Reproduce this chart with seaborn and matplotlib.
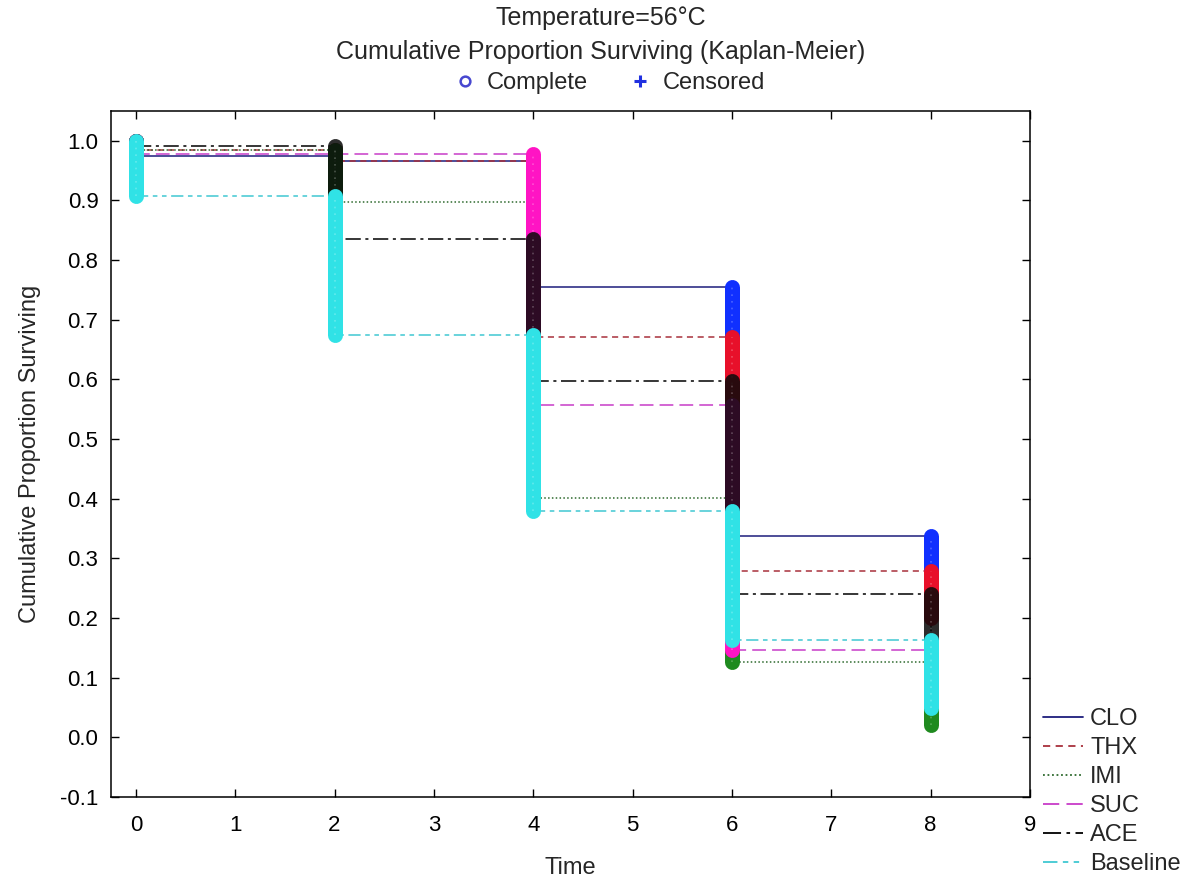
import numpy as np
import pandas as pd
import matplotlib.pyplot as plt
from matplotlib.lines import Line2D
import seaborn as sns

# Kaplan-Meier survival (value after each event time)
times = [0, 2, 4, 6, 8]
groups = ["CLO", "THX", "IMI", "SUC", "ACE", "Baseline"]
clo = [0.975, 0.966, 0.755, 0.337, 0.27]
thx = [0.985, 0.966, 0.671, 0.279, 0.20]
imi = [0.985, 0.897, 0.402, 0.126, 0.02]
suc = [0.978, 0.978, 0.557, 0.146, 0.06]
ace = [0.992, 0.836, 0.597, 0.240, 0.07]
baseline = [0.908, 0.674, 0.379, 0.164, 0.05]
start_value = 1.0

series = dict(zip(groups, [clo, thx, imi, suc, ace, baseline]))

df = pd.DataFrame({
    "time": times * len(groups),
    "surv": sum(series.values(), []),
    "group": np.repeat(groups, len(times)),
})

line_colors = {"CLO": "#1c1c7c", "THX": "#a8303c", "IMI": "#2e6a2e",
               "SUC": "#c83cc8", "ACE": "#000000", "Baseline": "#40c8d2"}
mark_colors = {"CLO": "#1030ff", "THX": "#e8102a", "IMI": "#1f8a1f",
               "SUC": "#ff14c4", "ACE": "#0a0a0a", "Baseline": "#30e2e6"}
mark_alpha = {"CLO": 1, "THX": 1, "IMI": 1, "SUC": 1, "ACE": 0.86, "Baseline": 1}
dashes = {"CLO": "", "THX": (4, 3), "IMI": (1, 1.5), "SUC": (9, 4),
          "ACE": (10, 3, 2, 3), "Baseline": (8, 3, 3, 3, 3, 3)}

sns.set_style("ticks")
plt.rcParams["font.family"] = ["Liberation Sans", "DejaVu Sans"]

fig = plt.figure(figsize=(11.94, 8.82), dpi=100)
ax = fig.add_axes([111 / 1194, 1 - 797 / 882, 919 / 1194, 686 / 882])

sns.lineplot(data=df, x="time", y="surv", hue="group", style="group",
             hue_order=groups, style_order=groups, palette=line_colors,
             dashes=dashes, drawstyle="steps-post", estimator=None,
             sort=False, lw=1.1, legend=False, ax=ax, zorder=2)

# columns of "complete" observations at each event time
for g in groups:
    vals = series[g]
    prev = [start_value] + vals[:-1]
    ax.vlines(times, vals, prev, colors=mark_colors[g], lw=10.8,
              capstyle="round", alpha=mark_alpha[g], zorder=3)
    ax.vlines(times, vals, prev, colors="white", lw=1.2,
              linestyles=(0, (1, 3)), alpha=0.25, zorder=3)

ax.set_xlim(-0.25, 9)
ax.set_ylim(-0.1, 1.05)
ax.set_xticks(range(0, 10))
yt = np.round(np.arange(-0.1, 1.01, 0.1), 1)
ax.set_yticks(yt)
ax.set_yticklabels([f"{v:.1f}" for v in yt])
ax.tick_params(direction="in", length=6, width=1, top=True, right=True,
               labelsize=16, colors="black")
ax.tick_params(axis="y", pad=9)
ax.tick_params(axis="x", pad=13)
for s in ax.spines.values():
    s.set_color("black")
    s.set_linewidth(1.1)

ax.set_xlabel("Time", fontsize=17, labelpad=15)
ax.set_ylabel("Cumulative Proportion Surviving", fontsize=17, labelpad=14)

fig.text(0.503, 1 - 18 / 882, "Temperature=56°C", ha="center", va="center", fontsize=18)
fig.text(0.503, 1 - 52 / 882, "Cumulative Proportion Surviving (Kaplan-Meier)",
         ha="center", va="center", fontsize=18)

top_handles = [
    Line2D([], [], ls="", marker="o", ms=7, mfc="none", mec="#4848d0", mew=1.8),
    Line2D([], [], ls="", marker="+", ms=8, mec="#2030e0", mew=2.2),
]
fig.legend(top_handles, ["Complete", "Censored"], loc="center",
           bbox_to_anchor=(0.51, 1 - 83 / 882), ncol=2, frameon=False,
           fontsize=17, handlelength=1.0, handletextpad=0.45, columnspacing=1.7)

line_handles = [Line2D([], [], color=line_colors[g], lw=1.3,
                       dashes=dashes[g] if dashes[g] else (None, None))
                for g in groups]
fig.legend(line_handles, groups, loc="upper left",
           bbox_to_anchor=(1043 / 1194, 1 - 708 / 882), frameon=False,
           fontsize=17, handlelength=1.7, handletextpad=0.3,
           labelspacing=0.3, borderaxespad=0, borderpad=0)

fig.savefig("out.png", dpi=100, facecolor="white")
